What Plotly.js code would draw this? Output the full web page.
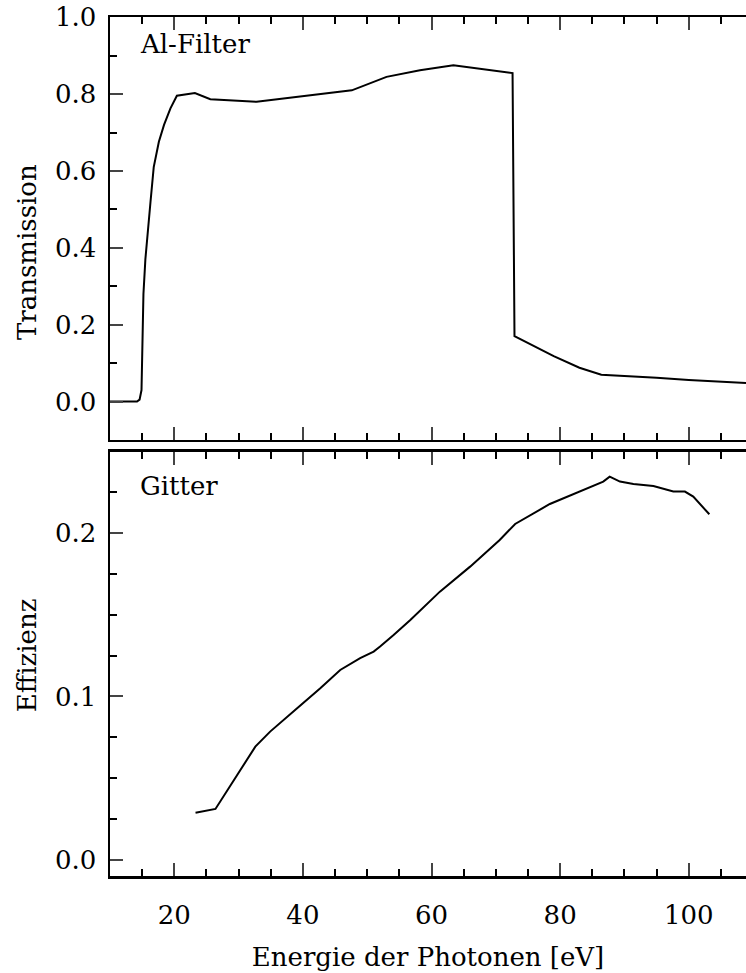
<!DOCTYPE html>
<html>
<head>
<meta charset="utf-8">
<script src="https://cdn.plot.ly/plotly-3.0.1.min.js"></script>
<style>html,body{margin:0;padding:0;background:#fff;}#chart{width:746px;height:973px;}</style>
</head>
<body>
<div id="chart"></div>
<script>
// Al-Filter transmission
const filterEnergy = [10, 14.2, 14.6, 14.9, 15.2, 15.5, 16.3, 16.8, 17.6, 18.4, 19.4, 20.4, 23.2, 25.6, 32.8, 40.6, 47.6, 53.0, 58.2, 63.4, 72.6, 72.9, 76.0, 79.0, 83.0, 86.4, 95, 100, 108.9];
const filterTransmission = [0.0, 0.0, 0.005, 0.03, 0.28, 0.37, 0.52, 0.61, 0.676, 0.72, 0.763, 0.796, 0.803, 0.787, 0.780, 0.795, 0.810, 0.845, 0.862, 0.875, 0.855, 0.170, 0.143, 0.118, 0.088, 0.070, 0.062, 0.056, 0.048];
// Gitter efficiency
const gratingEnergy = [23.3, 26.4, 32.6, 34.9, 39.1, 42.7, 45.8, 48.9, 51.0, 52.0, 54.1, 56.7, 61.3, 66.0, 70.6, 73.0, 78.4, 83.1, 86.7, 87.7, 89.3, 91.4, 94.5, 97.6, 99.4, 100.7, 103.2];
const gratingEfficiency = [0.0289, 0.0312, 0.0693, 0.0785, 0.0928, 0.105, 0.1162, 0.1234, 0.1274, 0.1305, 0.1376, 0.1468, 0.1641, 0.1794, 0.1957, 0.2055, 0.2177, 0.2253, 0.2314, 0.2344, 0.2314, 0.2300, 0.2287, 0.2253, 0.2253, 0.2222, 0.2114];
const topTickVals = [0.0, 0.2, 0.4, 0.6, 0.8, 1.0];
const bottomTickVals = [0.0, 0.1, 0.2];
const xTickVals = [20, 40, 60, 80, 100];
const panelLabels = ["Al-Filter", "Gitter"];
const axisTitles = ["Energie der Photonen [eV]", "Transmission", "Effizienz"];

const FONT = "DejaVu Serif";
const fs = 26;

const traces = [
  {x: filterEnergy, y: filterTransmission, xaxis: 'x', yaxis: 'y', mode: 'lines',
   line: {color: '#000', width: 2}, showlegend: false, hoverinfo: 'skip'},
  {x: gratingEnergy, y: gratingEfficiency, xaxis: 'x2', yaxis: 'y2', mode: 'lines',
   line: {color: '#000', width: 2}, showlegend: false, hoverinfo: 'skip'}
];

const xCommon = {
  range: [10, 108.9], tickvals: xTickVals, ticks: 'inside', ticklen: 13, tickwidth: 2,
  showline: true, linewidth: 2.5, linecolor: '#000', mirror: 'ticks', showgrid: false, zeroline: false,
  minor: {dtick: 5, tick0: 0, ticks: 'inside', ticklen: 7, tickwidth: 2, tickcolor: '#000', showgrid: false},
  tickfont: {family: FONT, size: fs, color: '#000'}
};
const yCommon = {
  ticks: 'inside', ticklen: 13, tickwidth: 2, showline: true, linewidth: 2.5, linecolor: '#000',
  mirror: false, showgrid: false, zeroline: false, tickformat: '.1f',
  tickfont: {family: FONT, size: fs, color: '#000'}, ticklabelstandoff: 6
};

const layout = {
  width: 746, height: 973,
  margin: {l: 110, r: 0, t: 17, b: 97},
  paper_bgcolor: '#fff', plot_bgcolor: '#fff',
  font: {family: FONT, size: fs, color: '#000'},
  xaxis: Object.assign({}, xCommon, {anchor: 'y', domain: [0, 1], showticklabels: false, matches: 'x2'}),
  xaxis2: Object.assign({}, xCommon, {anchor: 'y2', domain: [0, 1], ticklabelstandoff: 14,
    title: {text: axisTitles[0], font: {family: FONT, size: fs, color: '#000'}}}),
  yaxis: Object.assign({}, yCommon, {anchor: 'x', domain: [0.5076, 1], range: [-0.1, 1.0008], tickvals: topTickVals,
    minor: {dtick: 0.1, tick0: 0, ticks: 'inside', ticklen: 7, tickwidth: 2, tickcolor: '#000', showgrid: false}}),
  yaxis2: Object.assign({}, yCommon, {anchor: 'x2', domain: [0, 0.4936], range: [-0.0098, 0.2495], tickvals: bottomTickVals,
    minor: {dtick: 0.025, tick0: 0, ticks: 'inside', ticklen: 7, tickwidth: 2, tickcolor: '#000', showgrid: false}}),
  annotations: [
    {text: panelLabels[0], xref: 'x', yref: 'y', x: 14.3, y: 0.93, xanchor: 'left', yanchor: 'middle', showarrow: false,
     font: {family: FONT, size: fs, color: '#000'}},
    {text: panelLabels[1], xref: 'x2', yref: 'y2', x: 14.3, y: 0.2290, xanchor: 'left', yanchor: 'middle', showarrow: false,
     font: {family: FONT, size: fs, color: '#000'}},
    {text: axisTitles[1], xref: 'paper', yref: 'paper', x: -0.1305, y: 0.7264, xanchor: 'center', yanchor: 'middle',
     textangle: -90, showarrow: false, font: {family: FONT, size: fs, color: '#000'}},
    {text: axisTitles[2], xref: 'paper', yref: 'paper', x: -0.1305, y: 0.257, xanchor: 'center', yanchor: 'middle',
     textangle: -90, showarrow: false, font: {family: FONT, size: fs, color: '#000'}}
  ]
};

Plotly.newPlot('chart', traces, layout, {displayModeBar: false, staticPlot: true});
</script>
</body>
</html>
